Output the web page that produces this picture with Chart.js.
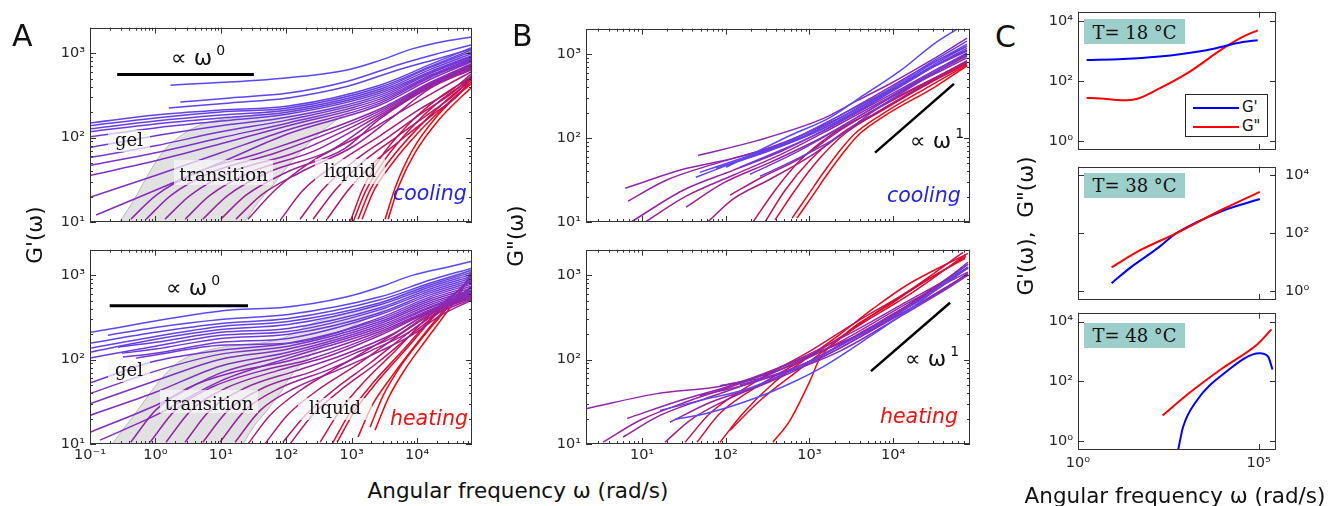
<!DOCTYPE html>
<html lang="en">
<head>
<meta charset="UTF-8">
<title>G' and G'' versus angular frequency</title>
<script src="https://cdn.jsdelivr.net/npm/chart.js"></script>
<style>
  body { margin: 0; background: #fff; }
  #fig { position: relative; width: 1329px; height: 506px; overflow: hidden; font-family: "DejaVu Sans", sans-serif; color: #111; }
  canvas.p { position: absolute; z-index: 1; }
  .t { position: absolute; z-index: 2; white-space: nowrap; line-height: 1; }
  .rot { transform: translate(-50%, -50%) rotate(-90deg); font-size: 21.5px; }
  .lab { position: absolute; z-index: 2; background: rgba(246,246,246,0.72); font-family: "DejaVu Serif", serif; font-size: 18px; line-height: 1; text-align: center; box-sizing: border-box; }
  .temp { position: absolute; z-index: 2; background: #9dcfca; font-family: "DejaVu Serif", serif; font-size: 18px; line-height: 1; text-align: center; box-sizing: border-box; width: 101px; height: 25px; left: 1084px; }
  .run { font-style: italic; font-size: 20.5px; }
  .sl { font-size: 22px; }
  .sl span { font-size: 14px; position: relative; top: -10px; margin-left: 4px; }
</style>
</head>
<body>
<div id="fig">
  <div class="t" style="left:12px;top:21px;font-size:30px">A</div>
  <div class="t" style="left:512px;top:21px;font-size:30px">B</div>
  <div class="t" style="left:995px;top:22px;font-size:30px">C</div>

  <div class="t rot" style="left:35px;top:235px">G'(ω)</div>
  <div class="t rot" style="left:516px;top:236px">G"(ω)</div>
  <div class="t rot" style="left:1026px;top:226px">G'(ω),&nbsp; G"(ω)</div>
  <div class="t" style="left:518px;top:480px;font-size:21.5px;transform:translateX(-50%)">Angular frequency ω (rad/s)</div>
  <div class="t" style="left:1175px;top:485px;font-size:21.5px;transform:translateX(-50%)">Angular frequency ω (rad/s)</div>

  <div class="t sl" style="left:171px;top:47px">∝ ω<span>0</span></div>
  <div class="t sl" style="left:166px;top:277px">∝ ω<span>0</span></div>
  <div class="t sl" style="left:910px;top:130px">∝ ω<span>1</span></div>
  <div class="t sl" style="left:905px;top:348px">∝ ω<span>1</span></div>

  <div class="lab" style="left:108px;top:130px;width:42px;height:22px;padding-top:1px">gel</div>
  <div class="lab" style="left:174px;top:160px;width:99px;height:25px;padding-top:6px">transition</div>
  <div class="lab" style="left:315px;top:159px;width:70px;height:25px;padding-top:3px">liquid</div>
  <div class="lab" style="left:108px;top:360px;width:42px;height:22px;padding-top:1px">gel</div>
  <div class="lab" style="left:160px;top:390px;width:98px;height:23px;padding-top:5px">transition</div>
  <div class="lab" style="left:298px;top:398px;width:74px;height:22px;padding-top:1px">liquid</div>

  <div class="t run" style="left:393px;top:183px;color:#2222ee">cooling</div>
  <div class="t run" style="left:390px;top:408px;color:#ee1111">heating</div>
  <div class="t run" style="left:887px;top:185px;color:#2222ee">cooling</div>
  <div class="t run" style="left:880px;top:406px;color:#ee1111">heating</div>

  <div class="temp" style="top:19px;padding-top:5px">T= 18 °C</div>
  <div class="temp" style="top:173px;padding-top:4px">T= 38 °C</div>
  <div class="temp" style="top:323px;padding-top:4px">T= 48 °C</div>

  <div style="position:absolute;z-index:2;left:1185px;top:94px;width:83px;height:43px;box-sizing:border-box;border:1px solid #262626;background:#fff">
    <div style="position:absolute;left:7px;top:12px;width:46px;height:2px;background:#0000ff"></div>
    <div style="position:absolute;left:7px;top:31px;width:46px;height:2px;background:#ff0000"></div>
    <div class="t" style="left:56px;top:5px;font-size:15px">G'</div>
    <div class="t" style="left:56px;top:24px;font-size:15px">G"</div>
  </div>
</div>

<script>
// tick positions
const decA = [0.1, 1, 10, 100, 1000, 10000];
const decB = [10, 100, 1000, 10000];
const decG = [10, 100, 1000];
const decCx = [1, 100000];
const decCy = [1, 100, 10000];

// A, cooling: G'(ω) curves [ω, G']
const aCoolG1 = [
  [[1.7,417],[80,500],[850,630],[2700,820],[8700,1130],[29000,1400],[69000,1550]],
  [[2.4,263],[14,295],[107,336],[870,465],[5500,740],[22000,1000],[69000,1260]],
  [[1.6,224],[14,257],[107,295],[870,405],[5500,645],[22000,870],[69000,1130]],
  [[0.1,149],[1,185],[10,212],[107,236],[2700,417],[16000,735],[69000,1164]],
  [[0.1,138],[1,171],[10,201],[107,224],[2700,395],[16000,696],[69000,1102]],
  [[0.1,127],[1,157],[10,185],[107,212],[2700,374],[16000,678],[69000,1045]],
  [[0.1,117],[1,145],[10,171],[107,201],[2700,354],[16000,642],[69000,989]],
  [[0.1,102],[1,130],[10,157],[107,190],[2700,336],[16000,608],[69000,937]],
  [[0.1,76],[1,105],[10,138],[107,175],[2700,318],[16000,592],[69000,912]],
  [[0.1,58],[1,80],[10,117],[107,162],[2700,301],[16000,576],[69000,888]],
  [[0.1,46.7],[1,66],[10,99.5],[107,149],[2700,285],[16000,546],[69000,864]],
  [[0.1,35.6],[1,53],[10,84.5],[107,138],[2700,270],[16000,531],[69000,841]],
  [[0.1,19.6],[1,35.6],[10,66],[107,124],[2700,256],[16000,517],[69000,819]],
  [[0.124,12.1],[1,23.8],[10,50.6],[107,111],[2700,243],[16000,490],[69000,797]],
  [[0.42,10.8],[1.02,20.7],[4.2,38.6],[41,66],[2700,218],[16000,452],[69000,755]],
  [[0.72,10.8],[1.73,20.7],[7.1,38.6],[70,66],[2700,207],[16000,440],[69000,735]],
  [[1.4,10.8],[3.4,20.7],[13.8,38.6],[135,66],[2700,196],[16000,428],[69000,715]],
  [[2.85,10.8],[6.8,20.7],[28,38.6],[275,70],[2700,185],[16000,417],[69000,696]],
  [[5.3,10.8],[12.8,20.7],[52,38.6],[470,70],[2700,175],[16000,405],[69000,678]],
  [[10,10.8],[24,20.7],[99,38.6],[780,74],[2700,166],[16000,395],[69000,660]],
  [[17,10.8],[41,20.7],[162,38.6],[1100,80],[3900,166],[16000,384],[69000,642]],
  [[26,10.8],[67,23.8],[230,50.6],[1340,105],[7800,236],[22000,374],[69000,608]],
  [[83,10.8],[180,23.8],[620,50.6],[2700,105],[11100,218],[32000,354],[69000,576]],
  [[162,10.8],[352,23.8],[1015,50.6],[3870,105],[13250,207],[34300,336],[69000,546]],
  [[257,10.8],[557,23.8],[1443,50.6],[5120,105],[15800,196],[38100,326],[69000,531]],
  [[421,10.8],[881,23.8],[2200,50.6],[6790,105],[18850,196],[42400,318],[69000,517]],
  [[946,10],[1443,23.8],[2700,56.4],[7030,138],[20200,285],[69000,531]],
  [[1050,10],[1660,23.8],[3130,53.4],[8090,130],[22000,270],[69000,503]],
  [[1253,10.8],[1910,23.8],[3600,50.6],[9310,120],[25000,256],[69000,490]],
  [[1443,10.8],[2200,23.8],[4150,49.3],[10360,114],[27700,243],[69000,465]],
  [[3240,10.8],[4770,27.2],[8390,70],[20200,180],[45400,336],[69000,440]],
  [[3600,10.8],[5310,27.2],[9310,66.3],[22000,166],[48800,310],[69000,395]]
];
const aCoolTone = [0, .04, .07, .1, .12, .14, .16, .18, .22, .25, .28, .31, .34, .37,
  .42, .44, .46, .48, .5, .52, .54, .6, .63, .66, .69, .72, .85, .88, .91, .94, .98, 1];
const aCoolZone = [[0.284,10],[0.48,18.8],[0.86,42],[1.39,72],[2.2,99],[4.5,138],[10,163],[26,180],[80,218],
  [330,270],[2700,372],[28000,630],[65000,760],[8700,480],[2700,336],[840,196],[330,114],[145,61],[80,35],
  [56,24.6],[37,17],[23,10]];
const aCoolSlope = [[0.26,560],[32,560]];

// A, heating: G'(ω)
const aHeatG1 = [
  [[0.1,210],[15.4,390],[80,411],[851,553],[2720,724],[8690,1000],[28800,1241],[69000,1458]],
  [[0.188,194],[1,240],[10,298],[107,341],[2720,553],[15800,874],[69000,1208]],
  [[0.1,156],[1,210],[10,267],[107,306],[2720,510],[15800,806],[69000,1144]],
  [[0.1,136],[1,188],[10,247],[107,282],[2720,471],[15800,764],[69000,1084]],
  [[0.1,122],[1,174],[10,227],[107,260],[2720,446],[15800,724],[69000,1027]],
  [[0.268,140],[1,160],[10,210],[107,234],[2720,411],[15800,686],[69000,973]],
  [[0.1,104],[1,144],[10,194],[107,215],[2720,390],[15800,650],[69000,923]],
  [[0.31,119],[1,133],[10,178],[107,199],[2720,359],[15800,616],[69000,874]],
  [[0.32,107],[1,119],[10,160],[107,178],[2720,341],[15800,584],[69000,828]],
  [[0.505,104],[1,113],[10,148],[107,156],[2720,314],[15800,553],[69000,785]],
  [[0.1,53],[1,96],[10,129],[107,156],[2720,298],[15800,524],[69000,743]],
  [[0.1,39.5],[1,73],[10,116],[107,144],[2720,282],[15800,497],[69000,705]],
  [[0.1,30],[1,56],[10,101],[107,133],[2720,267],[15800,471],[69000,668]],
  [[0.1,21.8],[1,41],[10,84],[107,122],[2720,253],[15800,446],[69000,650]],
  [[0.1,13.8],[1,28.6],[10,69.5],[107,113],[2720,240],[15800,423],[69000,633]],
  [[0.142,11.1],[1,21.8],[10,56],[107,104],[2720,227],[15800,411],[69000,616]],
  [[0.42,10.5],[1,25],[3.15,46],[18.3,73],[107,96],[2720,215],[15800,390],[69000,600]],
  [[0.83,10.5],[2,25],[6.8,46],[40,73],[231,101],[2720,204],[15800,379],[69000,584]],
  [[1.45,10.5],[3.5,25],[12,46],[70,73],[406,107],[2720,194],[15800,369],[69000,568]],
  [[2.84,10.5],[6.8,25],[23.4,46],[136,73],[665,110],[3870,194],[15800,359],[69000,553]],
  [[5.3,10.5],[12.9,25],[44,46],[257,73],[1130,119],[4610,188],[15800,350],[69000,538]],
  [[9.7,10.5],[23.4,25],[80,46],[468,77],[1910,126],[6560,199],[18850,341],[69000,524]],
  [[16.5,10.5],[40,25],[136,46],[665,77],[2720,126],[8690,199],[22500,331],[69000,510]],
  [[26,10],[56,21.8],[163,43],[665,84],[3870,188],[15800,369],[69000,633]],
  [[47,10],[103,21.8],[296,43],[1130,84],[5500,199],[18850,369],[69000,668]],
  [[89,10.5],[194,21.8],[520,43],[1910,91],[7820,215],[22500,390],[69000,724]],
  [[114,10],[248,21.8],[665,43],[2440,91],[9310,215],[26800,411],[69000,743]],
  [[329,10.5],[665,25],[1600,56],[4610,126],[13250,298],[32000,553],[69000,874]],
  [[502,10],[946,23.7],[2120,53],[5900,126],[15800,298],[35500,568],[69000,923]],
  [[598,10.5],[1130,25],[2530,56],[6790,133],[17600,314],[38100,600],[69000,973]],
  [[1250,12.1],[2050,28.6],[4150,64],[9650,152],[22500,341],[42400,600],[69000,1027]],
  [[1910,15.8],[3020,37.4],[5500,82],[11500,174],[25900,369],[45400,633],[69000,1084]],
  [[2280,14.6],[3600,34.5],[6560,77],[13250,165],[28800,369],[48800,668],[69000,1144]]
];
const aHeatTone = [0, .04, .07, .1, .12, .14, .16, .18, .2, .23, .27, .3, .32, .34, .36, .38,
  .42, .44, .46, .48, .5, .52, .54, .62, .65, .68, .7, .85, .88, .9, .94, .97, 1];
const aHeatZone = [[0.217,10],[0.43,20],[0.77,37],[1.23,59],[2.2,92],[4.5,120],[13,144],[42,157],[95,183],
  [257,270],[840,352],[2700,461],[8700,668],[28000,905],[65000,1150],[28000,870],[8700,600],[2700,369],
  [840,227],[260,120],[129,70],[80,40],[53,26],[33,16.7],[22,10]];
const aHeatSlope = [[0.2,434],[26,434]];

// B, cooling: G''(ω)
const bCoolG2 = [
  [[101,44.8],[587,107],[1762,175],[4018,302],[12100,629],[31800,1349],[58100,1977]],
  [[44,34.1],[148,54.2],[587,93],[2319,185],[9188,385],[27700,782],[76400,1426]],
  [[49,39],[195,62],[773,101],[2662,185],[9188,365],[27700,741],[76400,1313]],
  [[77,43.6],[257,65.5],[887,104],[3057,190],[10550,385],[31800,762],[76400,1243]],
  [[101,47.3],[339,71],[1167,116],[3510,200],[12100,407],[36500,782],[76400,1177]],
  [[148,44.8],[446,71],[1337,116],[4018,212],[12100,418],[36500,782],[76400,1115]],
  [[195,37],[587,62],[1762,113],[4612,200],[13900,396],[41800,741],[76400,1028]],
  [[257,35],[773,58.8],[2319,107],[5296,195],[13900,365],[41800,702],[76400,973]],
  [[46.7,62],[236,93],[1452,170],[3706,278],[9188,442],[27700,827],[76400,1545]],
  [[6.3,25.2],[31,42.4],[122,57.2],[484,86],[1762,161],[6970,345],[24100,702],[76400,1243]],
  [[6.8,17.7],[19.4,31.4],[77,49.9],[339,77],[1762,153],[6970,318],[24100,629],[76400,1086]],
  [[7.4,10],[31,23.9],[122,41.2],[484,71],[2022,145],[8003,302],[27700,596],[76400,1000]],
  [[10.9,10],[33.6,20.3],[122,36],[484,65.5],[2022,137],[8003,286],[27700,564],[76400,947]],
  [[33.6,15],[93,29],[339,51.3],[1337,98.6],[4612,200],[15900,407],[76400,897]],
  [[61,10],[122,18.7],[339,32.3],[1016,60.4],[3057,129],[12100,293],[76400,827]],
  [[113,20.9],[257,33.2],[773,57.2],[2319,123],[9188,278],[76400,804]],
  [[212,10],[389,23.9],[773,54.2],[1762,107],[5296,200],[21000,418],[76400,827]],
  [[295,10],[512,23.9],[1016,54.2],[2319,110],[6970,212],[24100,430],[76400,782]],
  [[389,10.6],[673,23.9],[1266,54.2],[2662,113],[8003,223],[27700,454],[76400,762]],
  [[620,11.1],[962,20.9],[1452,38],[2319,71],[3510,113],[6970,185],[27700,418],[76400,741]],
  [[711,11.1],[1104,20.9],[1667,38],[2662,71],[4018,113],[8003,185],[31800,407],[76400,721]]
];
const bCoolTone = [.02, .08, .1, .13, .16, .19, .22, .25, .42, .44, .46, .48, .5, .53, .58, .62, .75, .8, .86, .94, 1];
const bCoolSlope = [[6080,67],[53300,441]];

// B, heating: G''(ω)
const bHeatG2 = [
  [[24.8,19.6],[59.8,23.1],[236,35.5],[587,52],[1452,82],[5296,188],[21000,483],[78600,1345]],
  [[16.4,25],[49.3,32.7],[195,46],[1016,96],[5296,227],[27700,600],[78600,1241]],
  [[148,50.3],[587,73],[2319,126],[12100,323],[41800,668],[78600,1000]],
  [[85.5,49],[339,64],[1762,119],[9188,298],[36500,633],[78600,1055]],
  [[49.3,37.4],[195,52],[1016,96],[5296,234],[27700,600],[78600,1208]],
  [[2.2,26.4],[15.1,39.5],[92.9,49],[587,84],[3057,188],[15900,483],[78600,1084]],
  [[6.62,20.1],[28.5,32.7],[113,49],[587,91],[3057,204],[15900,510],[78600,1208]],
  [[21.6,18.1],[65,31],[257,49],[1167,96],[5296,215],[24100,510],[78600,1027]],
  [[3.42,10.5],[9.47,19.1],[37.5,32.7],[148,52],[773,101],[5296,227],[21000,553],[78600,1345]],
  [[5.93,12.1],[16.4,21.8],[56.6,34.5],[195,53],[1016,110],[6970,260],[27700,633],[78600,1420]],
  [[18.8,10.5],[37.5,19.1],[98.2,32.7],[339,56],[1534,119],[6970,282],[31800,686],[78600,1241]],
  [[32.7,10.5],[65,23.1],[236,56],[1016,126],[3706,282],[14700,633],[68500,1858]],
  [[45.4,10.5],[85.5,23.1],[295,54.6],[1167,119],[4250,267],[16800,616],[74500,1762]],
  [[113,14.6],[257,32.7],[673,69.5],[1762,144],[5296,323],[15900,650],[74500,1667]],
  [[85.5,10.5],[161,23.1],[367,52],[935,104],[2319,199],[5755,400],[14700,764],[78600,1808]],
  [[367,10.5],[587,19.1],[1016,56],[1337,104],[2319,178],[3706,260],[9188,446],[22800,828],[72400,1580]]
];
const bHeatTone = [0, .1, .36, .4, .43, .46, .47, .49, .5, .52, .55, .8, .85, .9, .95, 1];
const bHeatSlope = [[5440,73],[47900,470]];

// C: single temperatures, G' and G''
const c18G1 = [[1.74,490],[17.5,530],[149,630],[3590,1050],[36000,1950],[93500,2240]];
const c18G2 = [[1.74,27],[4.1,26],[17.5,22.5],[42,25],[149,50],[1240,204],[10100,1180],[36000,2900],[93500,4800]];
const c38G1 = [[8.5,1.9],[27,6.3],[149,29],[530,102],[10100,600],[107000,1530]];
const c38G2 = [[8.5,6.7],[51,25.6],[530,102],[10100,680],[107000,2720]];
const c48G1 = [[590,0.51],[810,3],[1900,22],[10100,170],[107000,870],[180000,680],[240000,250]];
const c48G2 = [[219,7.2],[1240,42],[10100,280],[86500,1650],[224000,5500]];

const toneStops = [[0, [88, 72, 250]], [0.4, [135, 42, 185]], [0.7, [185, 20, 105]], [1, [245, 5, 10]]];
function tone(t) {
  for (let i = 1; i < toneStops.length; i++) {
    const [t0, c0] = toneStops[i - 1], [t1, c1] = toneStops[i];
    if (t <= t1) {
      const f = (t - t0) / (t1 - t0);
      return 'rgb(' + c0.map((v, k) => Math.round(v + (c1[k] - v) * f)).join(',') + ')';
    }
  }
  return 'rgb(245,5,10)';
}

const SUP = {'-': '⁻', '0': '⁰', '1': '¹', '2': '²', '3': '³', '4': '⁴', '5': '⁵'};
function sup(v) {
  const e = Math.round(Math.log10(v));
  return '10' + String(e).split('').map(c => SUP[c]).join('');
}
const pts = arr => arr.map(([x, y]) => ({x, y}));

function curves(list, tones, w) {
  return list.map((c, i) => ({
    data: pts(c), borderColor: tone(tones[i]), borderWidth: w,
    cubicInterpolationMode: 'monotone', pointRadius: 0, fill: false
  }));
}
function zone(p) {
  return {data: pts(p), borderColor: '#b9b9b9', borderWidth: 1, backgroundColor: '#e1e1e1',
    fill: 'shape', tension: 0.35, pointRadius: 0, order: 5};
}
function slope(p, w) {
  return {data: pts(p), borderColor: '#000', borderWidth: w, pointRadius: 0, fill: false, order: -1};
}
function line(p, col) {
  return {data: pts(p), borderColor: col, borderWidth: 2, cubicInterpolationMode: 'monotone', pointRadius: 0, fill: false};
}

// axis box with inward ticks on all four sides
const frame = {
  id: 'frame',
  afterDatasetsDraw(chart, args, opts) {
    const {ctx, chartArea: a, scales} = chart;
    const marks = sc => {
      const out = sc.ticks.map(t => [t.value, 6]);
      if (opts.minor) {
        const lo = Math.floor(Math.log10(sc.min)), hi = Math.ceil(Math.log10(sc.max));
        for (let e = lo; e <= hi; e++) for (let m = 2; m < 10; m++) {
          const v = m * Math.pow(10, e);
          if (v > sc.min && v < sc.max) out.push([v, 3]);
        }
      }
      return out;
    };
    ctx.save();
    ctx.strokeStyle = '#333';
    ctx.lineWidth = 1;
    ctx.beginPath();
    marks(scales.x).forEach(([v, len]) => {
      const px = Math.round(scales.x.getPixelForValue(v)) + 0.5;
      ctx.moveTo(px, a.bottom); ctx.lineTo(px, a.bottom - len);
      ctx.moveTo(px, a.top); ctx.lineTo(px, a.top + len);
    });
    marks(scales.y).forEach(([v, len]) => {
      const py = Math.round(scales.y.getPixelForValue(v)) + 0.5;
      ctx.moveTo(a.left, py); ctx.lineTo(a.left + len, py);
      ctx.moveTo(a.right, py); ctx.lineTo(a.right - len, py);
    });
    ctx.stroke();
    ctx.strokeRect(Math.round(a.left) + 0.5, Math.round(a.top) + 0.5,
      Math.round(a.right - a.left) - 1, Math.round(a.bottom - a.top) - 1);
    ctx.restore();
  }
};

function panel(r, sets, o) {
  const right = o.yPos === 'right';
  const L = right ? 0 : 62, R = right ? 62 : 12, T = 12, B = 34;
  const cv = document.createElement('canvas');
  cv.className = 'p';
  cv.width = L + r.w + R; cv.height = T + r.h + B;
  cv.style.left = (r.x - L) + 'px'; cv.style.top = (r.y - T) + 'px';
  document.getElementById('fig').appendChild(cv);
  const font = {family: 'DejaVu Sans', size: 14.5};
  new Chart(cv, {
    type: 'line',
    data: {datasets: sets},
    options: {
      responsive: false, animation: false, devicePixelRatio: 1, events: [],
      layout: {padding: {top: T, right: right ? 0 : R, left: 0, bottom: 0}},
      plugins: {legend: {display: false}, tooltip: {enabled: false}, frame: {minor: o.minor}},
      scales: {
        x: {
          type: 'logarithmic', min: o.x[0], max: o.x[1],
          grid: {display: false, drawTicks: false}, border: {display: false},
          ticks: {display: o.xLab, font, color: '#262626', padding: o.xPad || 3, maxRotation: 0, autoSkip: false, callback: sup},
          afterBuildTicks: s => { s.ticks = o.xt.map(v => ({value: v})); },
          afterFit: s => { s.height = B; }
        },
        y: {
          type: 'logarithmic', position: right ? 'right' : 'left', min: o.y[0], max: o.y[1],
          grid: {display: false, drawTicks: false}, border: {display: false},
          ticks: {font, color: '#262626', padding: right ? 9 : 5, autoSkip: false, callback: sup},
          afterBuildTicks: s => { s.ticks = o.yt.map(v => ({value: v})); },
          afterFit: s => { s.width = right ? R : L; }
        }
      }
    },
    plugins: [frame]
  });
}

const optA = {x: [0.1, 69000], y: [10, 2000], xt: decA, yt: decG, minor: true};
const optB = {x: [2.14, 83000], y: [10, 2000], xt: decB, yt: decG, minor: true};
const optC = {x: [1, 300000], y: [0.5, 20000], xt: decCx, yt: decCy, minor: false};

panel({x: 90, y: 26, w: 382, h: 196},
  [slope(aCoolSlope, 3), ...curves(aCoolG1, aCoolTone, 1.5), zone(aCoolZone)], {...optA, xLab: false});
panel({x: 90, y: 248, w: 382, h: 196},
  [slope(aHeatSlope, 3), ...curves(aHeatG1, aHeatTone, 1.5), zone(aHeatZone)], {...optA, xLab: true});
panel({x: 586, y: 27, w: 384, h: 195},
  [slope(bCoolSlope, 2.5), ...curves(bCoolG2, bCoolTone, 1.5)], {...optB, xLab: false});
panel({x: 586, y: 248, w: 384, h: 196},
  [slope(bHeatSlope, 2.5), ...curves(bHeatG2, bHeatTone, 1.5)], {...optB, xLab: true});

panel({x: 1078, y: 10, w: 198, h: 140},
  [line(c18G1, '#0000ff'), line(c18G2, '#ff0000')], {...optC, xLab: false});
panel({x: 1078, y: 161, w: 198, h: 139},
  [line(c38G2, '#ff0000'), line(c38G1, '#0000ff')], {...optC, xLab: false, yPos: 'right'});
panel({x: 1078, y: 311, w: 198, h: 139},
  [line(c48G1, '#0000ff'), line(c48G2, '#ff0000')], {...optC, xLab: true, xPad: 5});
</script>
</body>
</html>
